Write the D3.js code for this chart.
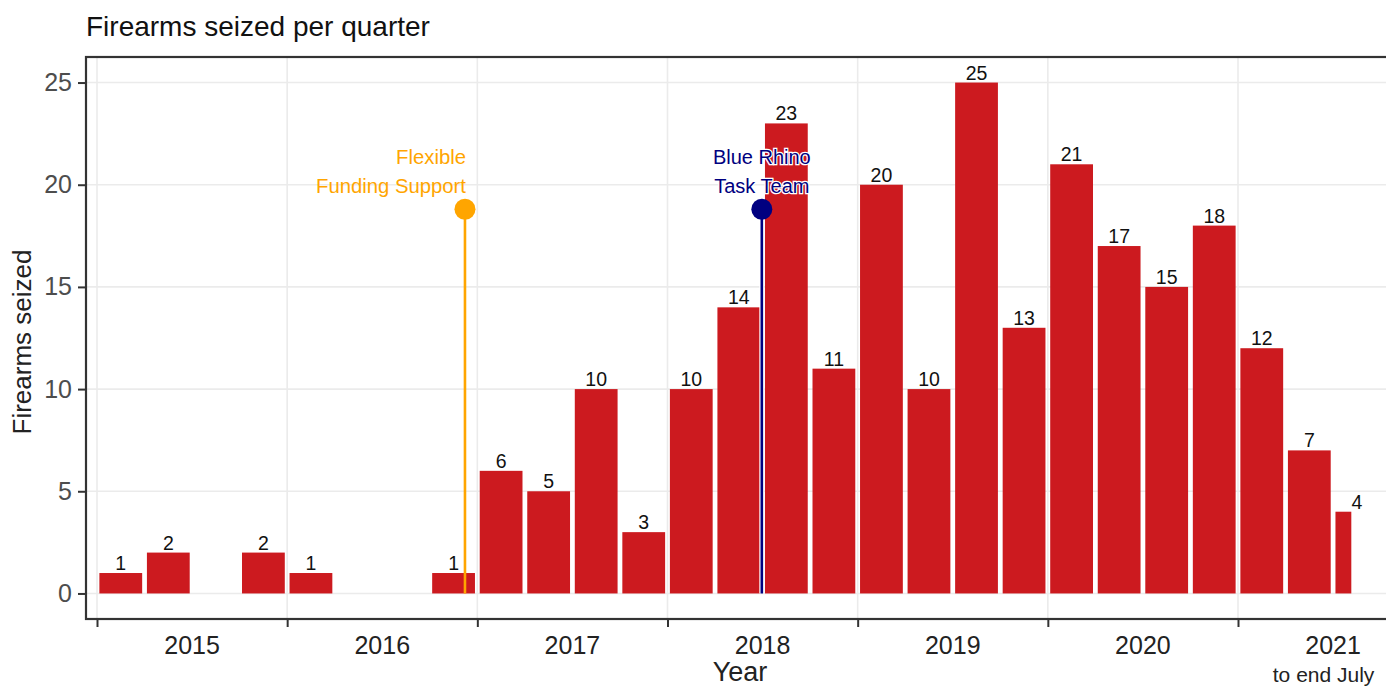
<!DOCTYPE html>
<html>
<head>
<meta charset="utf-8">
<script src="https://cdn.jsdelivr.net/npm/d3@7"></script>
<style>
  html, body { margin: 0; padding: 0; background: #fff; }
  svg { display: block; font-family: "Liberation Sans", Arial, sans-serif; }
</style>
</head>
<body>
<svg id="chart" width="1386" height="686"></svg>
<script>
// ---- data ----
const quarters = ["2015 Q1","2015 Q2","2015 Q3","2015 Q4",
                  "2016 Q1","2016 Q2","2016 Q3","2016 Q4",
                  "2017 Q1","2017 Q2","2017 Q3","2017 Q4",
                  "2018 Q1","2018 Q2","2018 Q3","2018 Q4",
                  "2019 Q1","2019 Q2","2019 Q3","2019 Q4",
                  "2020 Q1","2020 Q2","2020 Q3","2020 Q4",
                  "2021 Q1","2021 Q2","2021 Q3"];
const seized = [1, 2, 0, 2,
                1, 0, 0, 1,
                6, 5, 10, 3,
                10, 14, 23, 11,
                20, 10, 25, 13,
                21, 17, 15, 18,
                12, 7, 4];
// share of the quarter covered by the data (last quarter: July only)
const coverage = [1,1,1,1, 1,1,1,1, 1,1,1,1, 1,1,1,1, 1,1,1,1, 1,1,1,1, 1,1,1/3];
const yearTicks = [2015, 2016, 2017, 2018, 2019, 2020, 2021];
const yearLabels = ["2015","2016","2017","2018","2019","2020","2021"];
const yTicks = [0, 5, 10, 15, 20, 25];
const eventLabels = [["Flexible", "Funding Support"], ["Blue Rhino", "Task Team"]];
const eventDates = [2016.935, 2018.496];   // decimal years
const eventLevel = [18.8, 18.8];
const eventColors = ["#FFA500", "#000080"];
const eventAnchor = ["end", "middle"];

// ---- layout ----
const svg = d3.select("#chart");
const panel = {left: 86, top: 57, right: 1394, bottom: 619};

const x = d3.scaleLinear().domain([2015, 2021]).range([97, 1238]);
const y = d3.scaleLinear().domain([-1.25, 26.25]).range([panel.bottom, panel.top]);
const qw = x(2015.25) - x(2015);
const barColor = "#CC1A1F";

// title
svg.append("text").attr("x", panel.left).attr("y", 36)
  .attr("font-size", 28).attr("fill", "#111").text("Firearms seized per quarter");

// panel background
svg.append("rect").attr("x", panel.left).attr("y", panel.top)
  .attr("width", panel.right - panel.left + 20).attr("height", panel.bottom - panel.top)
  .attr("fill", "#fff");

// grid
const grid = svg.append("g");
grid.selectAll("line.h").data(yTicks).join("line")
  .attr("x1", panel.left).attr("x2", panel.right + 20)
  .attr("y1", d => y(d)).attr("y2", d => y(d))
  .attr("stroke", "#EBEBEB").attr("stroke-width", 1.6);
grid.selectAll("line.v").data(yearTicks).join("line")
  .attr("y1", panel.top).attr("y2", panel.bottom)
  .attr("x1", d => x(d)).attr("x2", d => x(d))
  .attr("stroke", "#EBEBEB").attr("stroke-width", 1.6);

// bars
const data = quarters.map((q, i) => ({q, v: seized[i], cov: coverage[i], t: 2015 + i * 0.25}));
const bars = data.filter(d => d.v > 0);
svg.append("g").selectAll("rect").data(bars).join("rect")
  .attr("x", d => x(d.t) + qw * 0.05)
  .attr("width", d => d.cov < 1 ? qw * d.cov : qw * 0.9)
  .attr("y", d => y(d.v))
  .attr("height", d => y(0) - y(d.v))
  .attr("fill", barColor);

// bar labels
svg.append("g").selectAll("text").data(bars).join("text")
  .attr("x", d => x(d.t + 0.125))
  .attr("y", d => y(d.v) - 3)
  .attr("text-anchor", "middle")
  .attr("font-size", 19.5).attr("fill", "#111")
  .text(d => d.v);

// events
eventDates.forEach((dt, i) => {
  const g = svg.append("g");
  const cx = x(dt), cy = y(eventLevel[i]);
  if (i === 1) {
    g.append("line").attr("x1", cx).attr("x2", cx).attr("y1", cy).attr("y2", y(0))
      .attr("stroke", "#fff").attr("stroke-width", 5);
  }
  g.append("line").attr("x1", cx).attr("x2", cx).attr("y1", cy).attr("y2", y(0))
    .attr("stroke", eventColors[i]).attr("stroke-width", 2.6);
  g.append("circle").attr("cx", cx).attr("cy", cy).attr("r", 10.5)
    .attr("fill", eventColors[i]);
  const tx = eventAnchor[i] === "end" ? cx + 1 : cx;
  eventLabels[i].forEach((line, j) => {
    g.append("text").attr("x", tx).attr("y", cy - 45 + j * 29)
      .attr("text-anchor", eventAnchor[i])
      .attr("font-size", i === 0 ? 20.3 : 20).attr("fill", eventColors[i])
      .attr("stroke", i === 1 ? "#fff" : "none").attr("stroke-width", 2.5)
      .attr("paint-order", "stroke")
      .text(line);
  });
});

// panel border
svg.append("rect").attr("x", panel.left).attr("y", panel.top)
  .attr("width", panel.right - panel.left + 20).attr("height", panel.bottom - panel.top)
  .attr("fill", "none").attr("stroke", "#333").attr("stroke-width", 2.2);

// y axis
const yAxis = svg.append("g").attr("transform", `translate(${panel.left},0)`)
  .call(d3.axisLeft(y).tickValues(yTicks).tickSize(8).tickPadding(6));
yAxis.select(".domain").remove();
yAxis.selectAll(".tick line").attr("stroke", "#333").attr("stroke-width", 2);
yAxis.selectAll(".tick text").attr("font-size", 25).attr("fill", "#4D4D4D")
  .attr("font-family", "Liberation Sans, Arial, sans-serif");

// x axis: ticks at year starts
const xAxis = svg.append("g").attr("transform", `translate(0,${panel.bottom})`)
  .call(d3.axisBottom(x).tickValues(yearTicks).tickSize(8).tickFormat(""));
xAxis.select(".domain").remove();
xAxis.selectAll(".tick line").attr("stroke", "#333").attr("stroke-width", 2);

// year labels at mid-year
svg.append("g").selectAll("text").data(yearTicks).join("text")
  .attr("x", d => x(d + 0.5)).attr("y", 654)
  .attr("text-anchor", "middle").attr("font-size", 25).attr("fill", "#222")
  .text((d, i) => yearLabels[i]);

// axis titles
svg.append("text").attr("x", (panel.left + panel.right) / 2).attr("y", 681)
  .attr("text-anchor", "middle").attr("font-size", 27).attr("fill", "#222").text("Year");
svg.append("text").attr("x", x(2021.45)).attr("y", 682)
  .attr("text-anchor", "middle").attr("font-size", 21).attr("fill", "#222").text("to end July");
svg.append("text")
  .attr("transform", `translate(31,${(panel.top + panel.bottom) / 2 + 4}) rotate(-90)`)
  .attr("text-anchor", "middle").attr("font-size", 26).attr("fill", "#222").text("Firearms seized");
</script>
</body>
</html>
